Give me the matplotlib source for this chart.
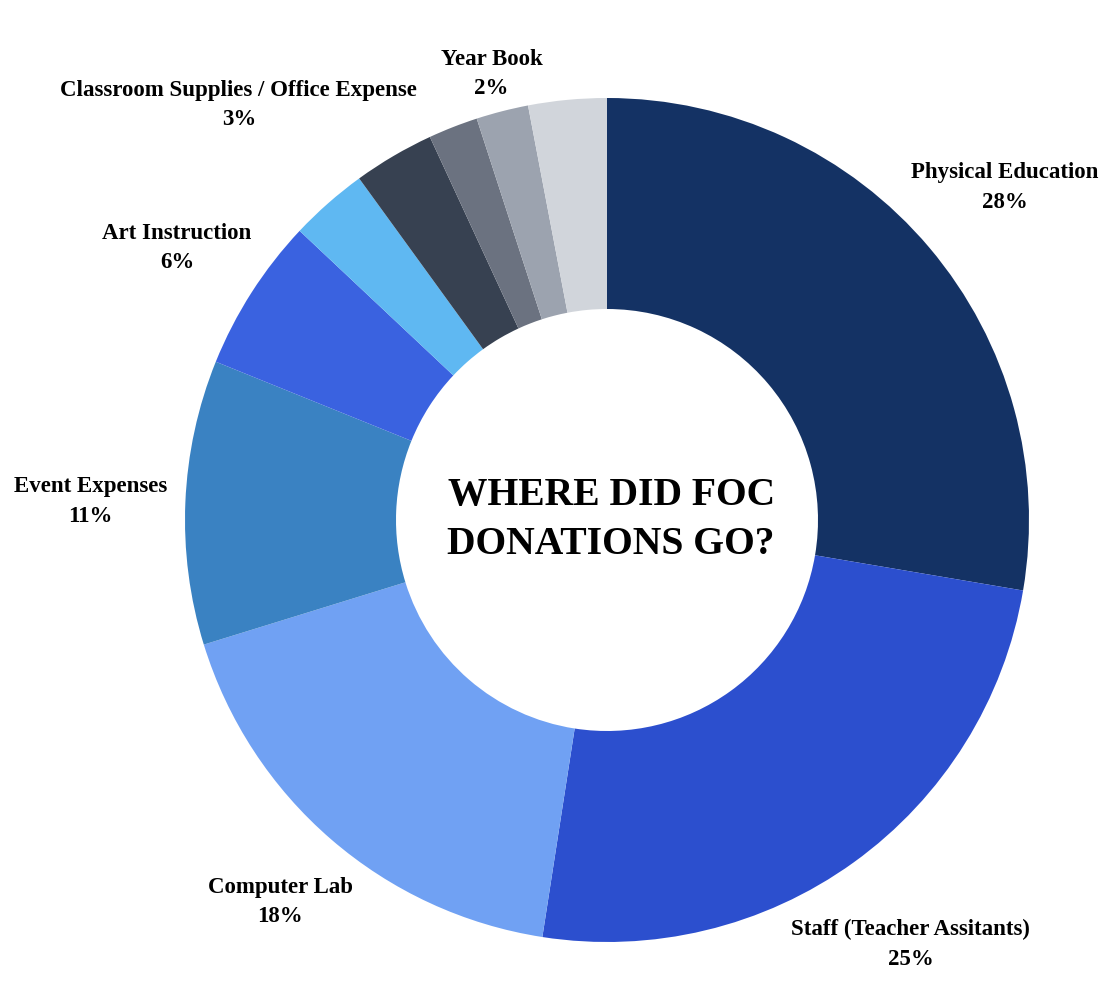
import numpy as np
import matplotlib
matplotlib.use("Agg")
import matplotlib.pyplot as plt

# slices, clockwise from 12 o'clock (percent)
names = ["Physical Education", "Staff (Teacher Assitants)", "Computer Lab",
         "Event Expenses", "Art Instruction", "Classroom Supplies / Office Expense",
         "", "", "Year Book", ""]
values = [27.7, 24.8, 17.8, 10.9, 5.9, 3.0, 3.1, 1.9, 2.0, 3.0]
colors = ["#143264", "#2c4fce", "#70a1f3", "#3a82c2", "#3a62e0", "#5fb8f2",
          "#374151", "#6b7280", "#9ca3af", "#d1d5db"]
# how far out each label sits (in radii)
label_dist = [1.234, 1.23, 1.185, 1.225, 1.21, 1.32, 0, 0, 1.10, 0]

plt.rcParams['font.family'] = ['Liberation Serif', 'DejaVu Serif']

fig = plt.figure(figsize=(11.2, 9.9), dpi=100)
ax = fig.add_axes([0, 0, 1, 1])

wedges, _ = ax.pie(values, colors=colors, startangle=90, counterclock=False,
                   radius=1.0, wedgeprops=dict(width=0.5, linewidth=0))

# labels on the middle angle of each wedge
for w, name, v, d in zip(wedges, names, values, label_dist):
    if not name:
        continue
    ang = np.deg2rad((w.theta1 + w.theta2) / 2)
    x, y = d * np.cos(ang), d * np.sin(ang)
    ax.text(x, y + 0.002, name, ha='center', va='bottom', fontsize=16.5,
            fontweight='bold')
    ax.text(x, y - 0.018, f"{v:.0f}%", ha='center', va='top', fontsize=16.5,
            fontweight='bold')

ax.text(0.01, 0, "WHERE DID FOC\nDONATIONS GO?", ha='center', va='center',
        fontsize=28.5, fontweight='bold', linespacing=1.45)

# centre at (607, 520) px, radius 422 px
s = 422.0
ax.set_xlim(-607 / s, (1120 - 607) / s)
ax.set_ylim(-(990 - 520) / s, 520 / s)
ax.set_aspect('auto')
ax.axis('off')

fig.savefig("out.png", dpi=100)
